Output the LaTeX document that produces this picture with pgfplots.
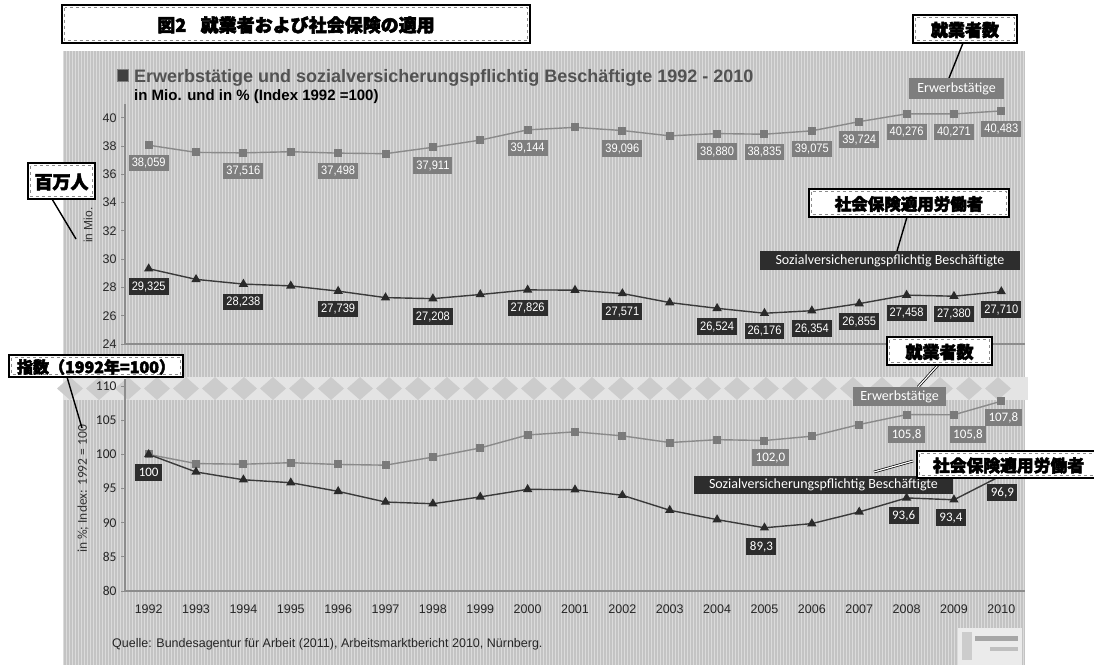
\documentclass[border=0pt]{standalone}
\usepackage{fontspec}
\usepackage{pgfplots}
\pgfplotsset{compat=1.18}
\usepackage{pgfplotstable}
\setmainfont{Liberation Sans}
\newfontfamily\arialn{Liberation Sans}[FakeStretch=0.9]
\newfontfamily\calib{Carlito}
\newfontfamily\cjk{Noto Sans CJK JP}[UprightFeatures={FakeBold=3}, BoldFeatures={FakeBold=3}]
\definecolor{panel}{HTML}{C3C3C3}
\definecolor{band}{HTML}{E4E4E4}
\definecolor{eline}{HTML}{8A8A8A}
\definecolor{emark}{HTML}{7A7A7A}
\definecolor{elab}{HTML}{7E7E7E}
\definecolor{sline}{HTML}{3A3A3A}
\definecolor{smark}{HTML}{2A2A2A}
\definecolor{slab}{HTML}{2D2D2D}
\definecolor{axc}{HTML}{8C8C8C}

\pgfplotstableread{
year E S
1992 38.059 29.325
1993 37.55 28.57
1994 37.516 28.238
1995 37.60 28.11
1996 37.498 27.739
1997 37.46 27.28
1998 37.911 27.208
1999 38.42 27.50
2000 39.144 27.826
2001 39.32 27.81
2002 39.096 27.571
2003 38.72 26.93
2004 38.880 26.524
2005 38.835 26.176
2006 39.075 26.354
2007 39.724 26.855
2008 40.276 27.458
2009 40.271 27.380
2010 40.483 27.710
}\tabUp

\pgfplotstableread{
year E S
1992 100 100
1993 98.66 97.43
1994 98.57 96.29
1995 98.79 95.86
1996 98.53 94.59
1997 98.43 93.03
1998 99.61 92.78
1999 100.95 93.78
2000 102.85 94.89
2001 103.31 94.83
2002 102.72 94.02
2003 101.74 91.83
2004 102.16 90.45
2005 102.04 89.26
2006 102.67 89.87
2007 104.38 91.58
2008 105.83 93.63
2009 105.81 93.36
2010 107.8 96.9
}\tabLo

\pgfplotstableread{
x y lab
1992 38.059 38,059
1994 37.516 37,516
1996 37.498 37,498
1998 37.911 37,911
2000 39.144 39,144
2002 39.096 39,096
2004 38.880 38,880
2005 38.835 38,835
2006 39.075 39,075
2007 39.724 39,724
2008 40.276 40,276
2009 40.271 40,271
2010 40.483 40,483
}\uElab

\pgfplotstableread{
x y lab
1992 29.325 29,325
1994 28.238 28,238
1996 27.739 27,739
1998 27.208 27,208
2000 27.826 27,826
2002 27.571 27,571
2004 26.524 26,524
2005 26.176 26,176
2006 26.354 26,354
2007 26.855 26,855
2008 27.458 27,458
2009 27.380 27,380
2010 27.710 27,710
}\uSlab

\pgfplotstableread{
x y lab dx dy
2005 102.04 102,0 6 -17
2008 105.83 105,8 0 -20
2009 105.81 105,8 14 -20
2010 107.8 107,8 2 -16
}\lElab

\pgfplotstableread{
x y lab dx dy
1992 100 100 0 -18
2005 89.26 89,3 -3 -19
2008 93.63 93,6 -3 -18
2009 93.36 93,4 -3 -18
2010 96.9 96,9 1 -17
}\lSlab

\newcommand{\jbox}[6]{%
  \fill[white] (#1,#2) rectangle (#3,#4);
  \draw[black!45, dashed, line width=0.6pt] ({#1+2.5},{#2+2.5}) rectangle ({#3-2.5},{#4-2.5});
  \draw[black, line width=1.3pt] (#1,#2) rectangle (#3,#4);
  \node[font=\cjk\bfseries\fontsize{#5}{#5}\selectfont, inner sep=0pt] at ({(#1+#3)/2},{(#2+#4)/2+1}) {#6};
}

\begin{document}
\begin{tikzpicture}
\useasboundingbox (0,0) rectangle (1094pt,-665pt);
\begin{scope}[x=1pt,y=-1pt]
  \fill[white] (0,0) rectangle (1094,665);
  \fill[panel] (63,51) rectangle (1025,665);
  \draw[white, opacity=0.4, line width=0.6pt, step=3] (63,51) grid (1025,665);
  % decorative band in lower panel
  \fill[band] (63,377) rectangle (1028,400);
  \foreach \k in {0,...,32} {
    \fill[panel!85!white] ({70+29*\k},377) -- ({83+29*\k},388.5) -- ({70+29*\k},400) -- ({57+29*\k},388.5) -- cycle;
  }
  % title
  \jbox{62}{5}{530}{43}{18}{図2\hspace{0.8em}就業者および社会保険の適用}
  % legend
  \fill[black!75] (117,69) rectangle (128,81);
  \draw[black!50, line width=0.5pt] (117,69) rectangle (128,81);
  \node[anchor=base west, inner sep=0pt, text=black!68, font=\bfseries\fontsize{18}{20}\selectfont] at (134,82) {Erwerbstätige und sozialversicherungspflichtig Beschäftigte 1992 - 2010};
  \node[anchor=base west, inner sep=0pt, text=black, font=\bfseries\fontsize{15}{17}\selectfont] at (134,100) {in Mio. und in \% (Index 1992 =100)};
  % axis titles
  \node[rotate=90, font=\fontsize{12}{14}\selectfont, text=black!80] at (88,225) {in Mio.};
  \node[rotate=90, font=\calib\fontsize{13.5}{15}\selectfont, text=black!80] at (83,489) {in \%; Index: 1992 = 100};
  % source
  \node[anchor=base west, inner sep=0pt, font=\fontsize{12.5}{14}\selectfont, text=black!85] at (112,647) {Quelle: Bundesagentur für Arbeit (2011), Arbeitsmarktbericht 2010, Nürnberg.};
  % blurred logo
  \fill[white!92!black] (958,628) rectangle (1022,665);
  \fill[black!35] (975,636) rectangle (1018,641);
  \fill[black!25] (990,647) rectangle (1018,651);
  \fill[black!20] (962,632) rectangle (972,660);
\end{scope}

% upper axis
\begin{axis}[at={(125pt,-344pt)}, anchor=south west, scale only axis,
  width=900pt, height=240.4pt,
  xmin=1991.5, xmax=2010.5, ymin=24, ymax=41,
  ytick={24,26,...,40}, xtick=\empty,
  axis lines*=left, axis line style={draw=axc, line width=1.2pt},
  tick align=outside, major tick length=4pt, y tick style={draw=axc, line width=0.8pt},
  yticklabel style={font=\fontsize{12.5}{14}\selectfont, text=black!85, xshift=-1pt},
  /pgf/number format/assume math mode=true,
  clip=false]
  \addplot[color=eline, line width=1.4pt, mark=square*, mark size=3.3pt, mark options={fill=emark, draw=emark}] table[x=year, y=E] {\tabUp};
  \addplot[color=sline, line width=1.4pt, mark=triangle*, mark size=4pt, mark options={fill=smark, draw=smark}] table[x=year, y=S] {\tabUp};
  \addplot[draw=none, mark=none, nodes near coords, point meta=explicit symbolic, nodes near coords align={center},
    every node near coord/.append style={anchor=center, yshift=-18pt, fill=elab, text=white, font=\arialn\fontsize{12.3}{13}\selectfont, inner xsep=3pt, inner ysep=3pt, text height=9pt, text depth=1.5pt}]
    table[x=x, y=y, meta=lab] {\uElab};
  \addplot[draw=none, mark=none, nodes near coords, point meta=explicit symbolic, nodes near coords align={center},
    every node near coord/.append style={anchor=center, yshift=-18pt, fill=slab, text=white, font=\arialn\fontsize{12.3}{13}\selectfont, inner xsep=3pt, inner ysep=3pt, text height=9pt, text depth=1.5pt}]
    table[x=x, y=y, meta=lab] {\uSlab};
\end{axis}

% lower axis
\begin{axis}[at={(125pt,-591pt)}, anchor=south west, scale only axis,
  width=900pt, height=211.7pt,
  xmin=1991.5, xmax=2010.5, ymin=80, ymax=111,
  ytick={80,85,...,110}, xtick={1992,1993,...,2010},
  axis lines*=left, axis line style={draw=axc, line width=1.4pt},
  tick align=outside, major tick length=4pt, y tick style={draw=axc, line width=0.8pt}, x tick style={draw=none},
  yticklabel style={font=\calib\fontsize{13.5}{15}\selectfont, text=black!85, xshift=-1pt},
  xticklabel style={font=\fontsize{12.5}{15}\selectfont, text=black!85, yshift=-6pt},
  /pgf/number format/1000 sep={},
  /pgf/number format/assume math mode=true,
  clip=false]
  \addplot[color=eline, line width=1.4pt, mark=square*, mark size=3.3pt, mark options={fill=emark, draw=emark}] table[x=year, y=E] {\tabLo};
  \addplot[color=sline, line width=1.4pt, mark=triangle*, mark size=4pt, mark options={fill=smark, draw=smark}] table[x=year, y=S] {\tabLo};
  \addplot[draw=none, mark=none, nodes near coords, point meta=explicit symbolic, nodes near coords align={center},
    visualization depends on={\thisrow{dx} \as \dx},
    visualization depends on={\thisrow{dy} \as \dy},
    every node near coord/.append style={anchor=center, xshift=\dx pt, yshift=\dy pt, fill=elab, text=white, font=\calib\fontsize{13}{14}\selectfont, inner xsep=3.5pt, inner ysep=4pt, text height=8.5pt, text depth=0.5pt}]
    table[x=x, y=y, meta=lab] {\lElab};
  \addplot[draw=none, mark=none, nodes near coords, point meta=explicit symbolic, nodes near coords align={center},
    visualization depends on={\thisrow{dx} \as \dx},
    visualization depends on={\thisrow{dy} \as \dy},
    every node near coord/.append style={anchor=center, xshift=\dx pt, yshift=\dy pt, fill=slab, text=white, font=\calib\fontsize{13}{14}\selectfont, inner xsep=3.5pt, inner ysep=4pt, text height=8.5pt, text depth=0.5pt}]
    table[x=x, y=y, meta=lab] {\lSlab};
\end{axis}

% callouts
\begin{scope}[x=1pt,y=-1pt]
  % upper
  \draw[black, line width=1.4pt] (963,43) -- (949,78);
  \jbox{913}{15}{1017}{43}{17}{就業者数}
  \node[fill=elab, text=white, font=\calib\fontsize{14}{16}\selectfont, minimum width=95pt, minimum height=21pt, inner sep=0pt] at (956.5,88.5) {Erwerbstätige};
  \draw[black, line width=1.4pt] (907,217) -- (897,251);
  \jbox{809}{189}{1009}{217}{16.5}{社会保険適用労働者}
  \node[fill=slab, text=white, font=\calib\fontsize{14}{16}\selectfont, minimum width=260pt, minimum height=19pt, inner sep=0pt] at (890,260.5) {Sozialversicherungspflichtig Beschäftigte};
  \draw[black, line width=1.4pt] (52,199) -- (76,239);
  \jbox{28}{163}{95}{199}{18}{百万人}
  \draw[black, line width=1.4pt] (67,377) -- (82,428);
  \jbox{9}{355}{183}{377}{16}{指数（1992年=100）}
  % lower
  \draw[black, double=white, double distance=1.2pt, line width=0.7pt] (938,365) -- (918,387);
  \jbox{887}{337}{992}{365}{17}{就業者数}
  \node[fill=elab, text=white, font=\calib\fontsize{14}{16}\selectfont, minimum width=93pt, minimum height=19pt, inner sep=0pt] at (899.5,396.5) {Erwerbstätige};
  \draw[black, double=white, double distance=1.2pt, line width=0.7pt] (913,461) -- (874,472);
  \node[fill=slab, text=white, font=\calib\fontsize{14}{16}\selectfont, minimum width=259pt, minimum height=18pt, inner sep=0pt] at (823.5,485) {Sozialversicherungspflichtig Beschäftigte};
  \jbox{917}{451}{1100}{478}{16.8}{社会保険適用労働者}
\end{scope}
\end{tikzpicture}
\end{document}
